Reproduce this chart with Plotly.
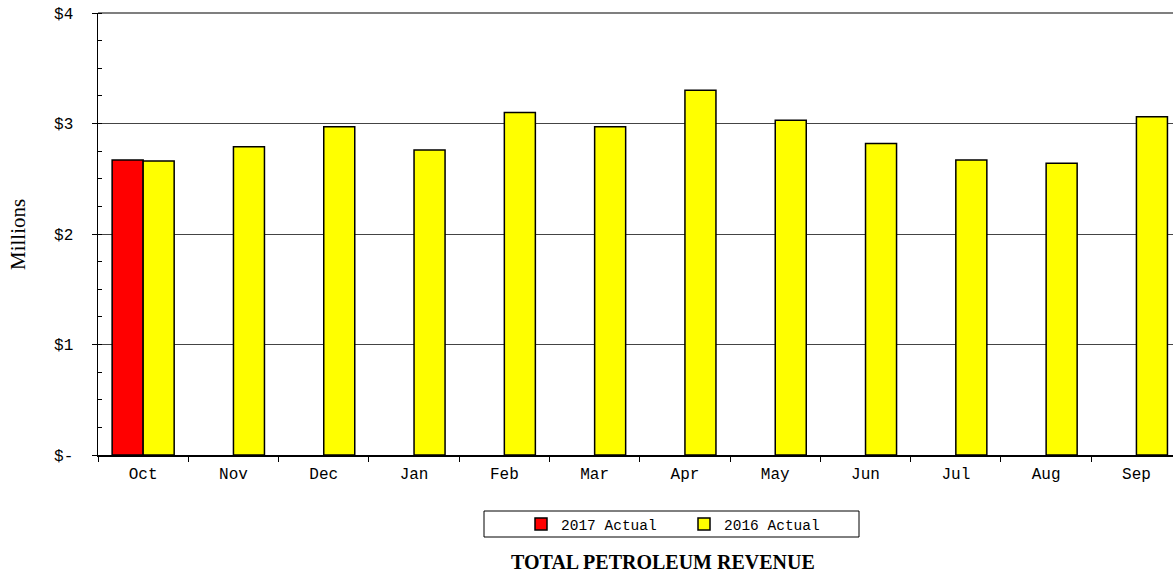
import plotly.graph_objects as go

months = ["Oct", "Nov", "Dec", "Jan", "Feb", "Mar", "Apr", "May", "Jun", "Jul", "Aug", "Sep"]
actual_2017 = [2.67, None, None, None, None, None, None, None, None, None, None, None]
actual_2016 = [2.66, 2.79, 2.97, 2.76, 3.10, 2.97, 3.30, 3.03, 2.82, 2.67, 2.64, 3.06]
ytick_vals = [0, 1, 2, 3, 4]
ytick_text = ["$-", "$1", "$2", "$3", "$4"]

W, H = 1173, 576
L, R, T, B = 98, 0, 13, 576 - 455
pw, ph = W - L - R, H - T - B

def px(x):
    return (x - L) / pw

def py(y):
    return (H - B - y) / ph

mono = "Liberation Mono, Courier New, monospace"
serif = "Liberation Serif, Times New Roman, serif"

fig = go.Figure()
fig.add_trace(go.Bar(x=months, y=actual_2017, name="2017 Actual",
                     marker=dict(color="#ff0000", line=dict(color="#000000", width=1.5))))
fig.add_trace(go.Bar(x=months, y=actual_2016, name="2016 Actual",
                     marker=dict(color="#ffff00", line=dict(color="#000000", width=1.5))))

fig.update_layout(
    width=W, height=H,
    margin=dict(l=L, r=R, t=T, b=B, pad=0),
    plot_bgcolor="white", paper_bgcolor="white",
    barmode="group", bargap=0.313, bargroupgap=0,
    showlegend=True, hovermode=False,
    legend=dict(orientation="h", x=px(521), xanchor="left", y=py(524), yanchor="middle",
                font=dict(family=mono, size=14.5, color="black"),
                bgcolor="rgba(0,0,0,0)", borderwidth=0, entrywidth=118, entrywidthmode="pixels",
                itemclick=False),
    xaxis=dict(type="category", range=[-0.5, 11.405],
               tickson="boundaries", ticks="outside", ticklen=5, tickcolor="black",
               showline=True, linecolor="black", linewidth=2, showgrid=False,
               tickfont=dict(family=mono, size=16, color="black"), ticklabelstandoff=3),
    yaxis=dict(range=[0, 4], tickvals=ytick_vals, ticktext=ytick_text,
               ticks="outside", ticklen=5, tickcolor="black",
               minor=dict(ticks="inside", dtick=0.25, ticklen=4, tickcolor="black", showgrid=False),
               showline=True, linecolor="black", linewidth=1.5,
               showgrid=True, gridcolor="#444444", gridwidth=1, zeroline=False,
               tickfont=dict(family=mono, size=16, color="black"), ticklabelstandoff=15),
)

fig.add_shape(type="rect", xref="paper", yref="paper",
              x0=px(484), x1=px(859), y0=py(537), y1=py(511),
              line=dict(color="black", width=1), fillcolor="rgba(0,0,0,0)")
fig.add_shape(type="line", xref="paper", yref="paper", x0=0, x1=1, y0=1, y1=1,
              line=dict(color="black", width=1.2))

fig.add_annotation(text="Millions", xref="paper", yref="paper", x=px(18), y=py(235),
                   xanchor="center", yanchor="middle",
                   textangle=-90, showarrow=False, font=dict(family=serif, size=21, color="black"))
fig.add_annotation(text="<b>TOTAL PETROLEUM REVENUE</b>", xref="paper", yref="paper",
                   x=px(663), y=py(562), xanchor="center", yanchor="middle", showarrow=False,
                   font=dict(family=serif, size=20, color="black"))

fig.write_html("out.html", config={"displayModeBar": False, "staticPlot": True},
               post_script="document.body.style.margin='0';document.body.style.overflow='hidden';")
